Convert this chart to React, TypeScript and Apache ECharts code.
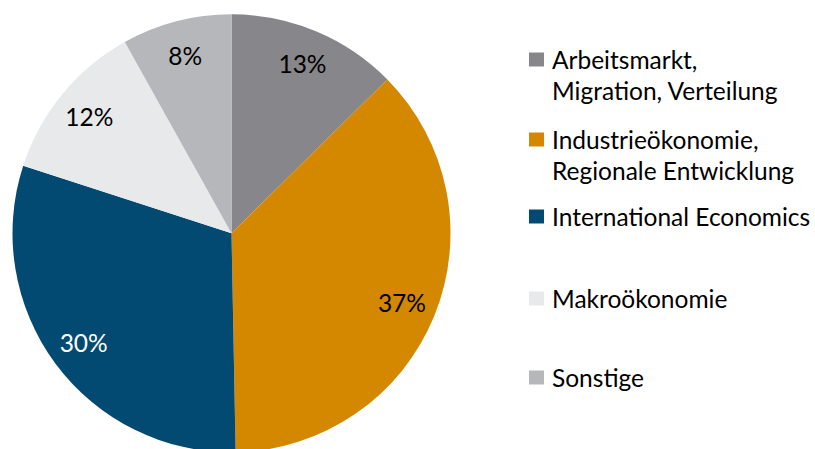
import React, { useEffect, useRef } from "react";
import * as echarts from "echarts";

const categories = [
  "Arbeitsmarkt,\nMigration, Verteilung",
  "Industrieökonomie,\nRegionale Entwicklung",
  "International Economics",
  "Makroökonomie",
  "Sonstige",
];
const shares = [12.6, 37.1, 30.3, 11.9, 8.1];

const colors = ["#87868A", "#D48800", "#024A72", "#E8E9EB", "#B6B7BB"];
const labelColors = ["#000000", "#000000", "#FFFFFF", "#000000", "#000000"];
const legendTops = [13, 93, 201, 283, 362];

const FONT = "Lato, 'Open Sans', sans-serif";
const FS = 24.5;
const LH = 31;

export default function App() {
  const ref = useRef<HTMLDivElement>(null);
  useEffect(() => {
    if (!ref.current) return;
    const chart = echarts.init(ref.current, null, { renderer: "svg" });
    const data = categories.map((name, i) => ({
      name,
      value: shares[i],
      itemStyle: { color: colors[i] },
    }));
    const labelData = categories.map((name, i) => ({
      name,
      value: shares[i],
      itemStyle: { color: "rgba(0,0,0,0)" },
      label: { color: labelColors[i] },
    }));
    const legends = categories.map((name, i) => ({
      orient: "vertical",
      left: 529,
      top: legendTops[i],
      padding: 0,
      itemWidth: 15,
      itemHeight: 14,
      icon: "rect",
      selectedMode: false,
      data: [name],
      // leading blank line keeps the first text line level with the square
      formatter: (n: string) => (n.indexOf("\n") >= 0 ? " \n" + n : n),
      textStyle: {
        fontFamily: FONT,
        fontSize: FS,
        lineHeight: LH,
        color: "#000000",
        padding: [0, 0, 0, 3],
      },
    }));
    chart.setOption({
      animation: false,
      backgroundColor: "#FFFFFF",
      legend: legends,
      series: [
        {
          type: "pie",
          center: [231.5, 233.3],
          radius: [0, 219],
          startAngle: 90,
          clockwise: true,
          silent: true,
          label: { show: false },
          labelLine: { show: false },
          itemStyle: { borderWidth: 0 },
          data,
        },
        {
          type: "pie",
          center: [231.5, 233.3],
          radius: [143, 219],
          startAngle: 90,
          clockwise: true,
          silent: true,
          legendHoverLink: false,
          label: {
            show: true,
            position: "inside",
            fontFamily: FONT,
            fontSize: FS,
            formatter: (p: any) => Math.round(p.value) + "%",
          },
          labelLine: { show: false },
          itemStyle: { borderWidth: 0 },
          data: labelData,
        },
      ],
    });
    return () => chart.dispose();
  }, []);
  return (
    <div
      ref={ref}
      style={{ position: "fixed", left: 0, top: 0, width: 815, height: 449 }}
    />
  );
}
